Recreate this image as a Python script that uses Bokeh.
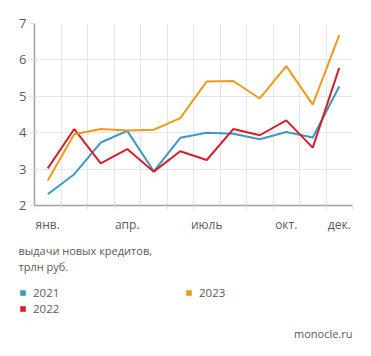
from bokeh.plotting import figure
from bokeh.layouts import column
from bokeh.models import FixedTicker, Label, Legend, LegendItem, Range1d
from bokeh.embed import file_html
from bokeh.resources import INLINE

months = [0.5, 1.5, 2.5, 3.5, 4.5, 5.5, 6.5, 7.5, 8.5, 9.5, 10.5, 11.5]
tick_pos = [0.5, 3.5, 6.5, 9.5, 11.5]
tick_labels = ["янв.", "апр.", "июль", "окт.", "дек."]
y_ticks = [2, 3, 4, 5, 6, 7]

s2021 = [2.31, 2.86, 3.73, 4.05, 2.94, 3.86, 4.0, 3.97, 3.82, 4.02, 3.87, 5.27]
s2022 = [3.02, 4.10, 3.16, 3.55, 2.93, 3.49, 3.25, 4.10, 3.93, 4.34, 3.59, 5.78]
s2023 = [2.69, 3.96, 4.10, 4.06, 4.08, 4.40, 5.41, 5.42, 4.94, 5.83, 4.77, 6.68]

series = [("2021", s2021, "#3b99c2"), ("2022", s2022, "#d51f2c"), ("2023", s2023, "#f0991a")]

FONT = "Open Sans"
TXT = "#5a5a5a"

p = figure(width=371, height=235, output_backend="svg", toolbar_location=None,
           x_range=Range1d(0, 12), y_range=Range1d(2, 7),
           min_border_left=34, min_border_right=19, min_border_top=23, min_border_bottom=26)
p.outline_line_color = None
p.background_fill_color = "white"
p.border_fill_color = "white"
p.frame_align = False

# x axis
p.xaxis.ticker = FixedTicker(ticks=tick_pos, minor_ticks=list(range(13)))
p.xaxis.major_label_overrides = {t: l for t, l in zip(tick_pos, tick_labels)}
p.xaxis.major_tick_out = 0
p.xaxis.major_tick_in = 0
p.xaxis.minor_tick_out = 4
p.xaxis.minor_tick_in = 0
p.xaxis.minor_tick_line_color = "#e2e2e2"
p.xaxis.axis_line_color = "#a0a0a0"
p.xaxis.axis_line_width = 1.5
p.xaxis.major_label_standoff = 6
p.xaxis.major_label_text_font = FONT
p.xaxis.major_label_text_font_size = "12px"
p.xaxis.major_label_text_color = TXT

# y axis
p.yaxis.ticker = FixedTicker(ticks=y_ticks)
p.yaxis.major_tick_out = 5
p.yaxis.major_tick_in = 0
p.yaxis.major_tick_line_color = "#e2e2e2"
p.yaxis.minor_tick_line_color = None
p.yaxis.axis_line_color = "#a0a0a0"
p.yaxis.axis_line_width = 1.5
p.yaxis.major_label_standoff = 3
p.yaxis.major_label_text_font = FONT
p.yaxis.major_label_text_font_size = "13px"
p.yaxis.major_label_text_color = TXT

p.xgrid.ticker = FixedTicker(ticks=list(range(13)))
p.xgrid.grid_line_color = "#e6e6e6"
p.ygrid.ticker = FixedTicker(ticks=y_ticks)
p.ygrid.grid_line_color = "#e6e6e6"

for name, vals, col in series:
    p.line(months, vals, line_color=col, line_width=2)

# lower panel: caption, legend, source
q = figure(width=371, height=121, output_backend="svg", toolbar_location=None,
           x_range=Range1d(0, 1), y_range=Range1d(0, 1),
           min_border_left=0, min_border_right=0, min_border_top=0, min_border_bottom=0)
q.axis.visible = False
q.grid.visible = False
q.outline_line_color = None
q.background_fill_color = "white"
q.border_fill_color = "white"
q.frame_align = False

items = {}
for name, vals, col in series:
    r = q.quad(left=[-5], right=[-4], bottom=[-5], top=[-4], fill_color=col, line_color=None)
    items[name] = LegendItem(label=name, renderers=[r])

leg_kw = dict(glyph_width=7, glyph_height=7, label_standoff=7, spacing=0,
              padding=0, margin=0, label_height=12, label_width=152,
              label_text_font=FONT, label_text_font_size="11.5px",
              label_text_color=TXT, background_fill_alpha=0,
              border_line_color=None)
legend1 = Legend(items=[items["2021"], items["2023"]], location=(19, 56),
                 orientation="horizontal", **leg_kw)
legend2 = Legend(items=[items["2022"]], location=(19, 40), **leg_kw)
q.add_layout(legend1, "center")
q.add_layout(legend2, "center")

for txt, yy in [("выдачи новых кредитов,", 106), ("трлн руб.", 90)]:
    q.add_layout(Label(x=18, y=yy, x_units="screen", y_units="screen", text=txt,
                       text_font=FONT, text_font_size="11px", text_color=TXT,
                       text_baseline="middle"))
q.add_layout(Label(x=352, y=23, x_units="screen", y_units="screen", text="monocle.ru",
                   text_font=FONT, text_font_size="11px", text_color=TXT,
                   text_baseline="middle", text_align="right"))

layout = column(p, q, spacing=0)
open("out.html", "w").write(file_html(layout, INLINE))
